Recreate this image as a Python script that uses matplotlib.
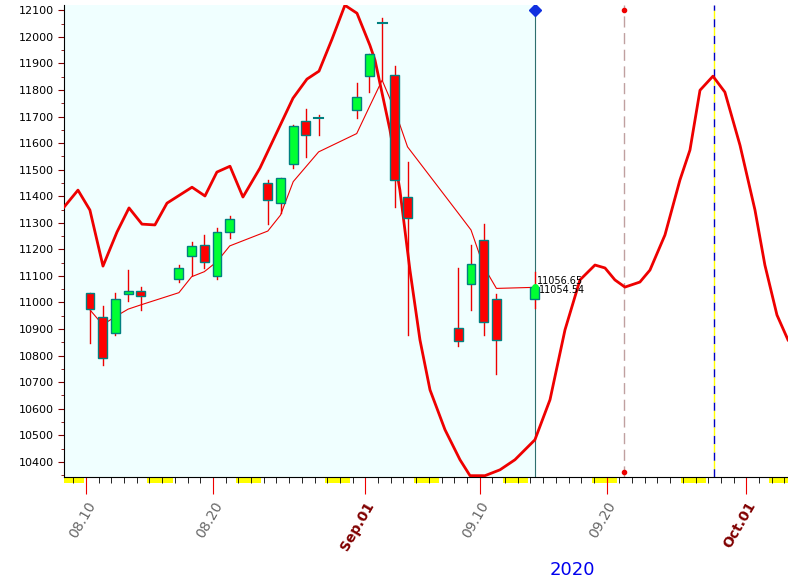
import matplotlib
matplotlib.use("Agg")
import matplotlib.pyplot as plt
from matplotlib.patches import Rectangle

# day index: 0 = 2020-08-10
days = [0,1,2,3,4,7,8,9,10,11,14,15,16,17,18,21,22,23,24,25,29,30,31,32,35]
opens  = [11035,10945,10884,11031,11042,11087,11174,11215,11101,11264,11448,11373,11520,11685,11693,11723,11854,12052,11857,11396,10903,11069,11234,11012,11015]
closes = [10975,10790,11012,11042,11023,11129,11211,11151,11264,11313,11384,11467,11663,11629,11693,11775,11937,12052,11460,11317,10854,11144,10926,10858,11057]
highs  = [11037,10987,11035,11122,11057,11141,11228,11254,11279,11327,11461,11467,11668,11729,11705,11826,11937,12072,11889,11528,11131,11216,11295,11032,11116]
lows   = [10849,10763,10878,11007,10972,11079,11104,11131,11090,11244,11295,11336,11507,11549,11630,11695,11793,11837,11361,10876,10838,10970,10876,10729,10978]
avg    = [10972,10916,10947,10975,10991,11037,11097,11116,11154,11213,11269,11329,11455,11511,11567,11636,11737,11837,11724,11586,11336,11273,11135,11053,11057]

curve_x = [-1.73,-0.63,0.31,1.34,2.44,3.39,4.41,5.43,6.38,8.35,9.37,10.31,11.34,12.36,13.70,16.30,17.40,18.35,19.37,20.39,21.34,22.36,22.76,23.94,24.72,25.51,26.30,27.09,28.27,29.45,30.24,31.42,32.60,33.78,35.35,36.54,37.72,38.90,40.08,40.87,41.65,42.44,43.62,44.41,45.59,46.77,47.56,48.35,49.37,50.31,51.50,52.68,53.46,54.41,55.28]
curve_y = [11359,11423,11348,11137,11265,11356,11295,11292,11374,11434,11401,11491,11513,11397,11506,11769,11841,11871,11991,12119,12089,11968,11912,11649,11423,11122,10859,10671,10521,10408,10348,10348,10370,10408,10483,10634,10897,11085,11141,11130,11085,11058,11077,11122,11254,11461,11574,11799,11852,11792,11592,11348,11141,10953,10859]

tick_days = [0,10,22,31,41,52]
tick_labels = ["08.10","08.20","Sep.01","09.10","09.20","Oct.01"]
weekends = [-2,5,12,19,26,33,40,47,54]

off = 0.32
fig = plt.figure(figsize=(7.88,5.8), dpi=100)
ax = fig.add_axes([64/788, 1-477/580, 1-64/788, 472/580])
xmin, xmax = -1.73, 55.28
ax.set_xlim(xmin, xmax)
ax.set_ylim(10343, 12120)
ax.axvspan(xmin, 35+off, color="#F0FFFF", zorder=0)

ax.plot(curve_x, curve_y, color="#EE0000", lw=2, zorder=3)
ax.plot([d+off for d in days], avg, color="#EE0000", lw=0.8, zorder=3)

for d,o,c,h,l in zip(days,opens,closes,highs,lows):
    x = d+off
    ax.plot([x,x],[l,h], color="#EE0000", lw=1, zorder=4)
    if o == c:
        ax.plot([x-0.35,x+0.35],[o,o], color="#008080", lw=1.5, zorder=5)
    else:
        col = "#00FF33" if c > o else "#FF0000"
        ax.add_patch(Rectangle((x-0.35, min(o,c)), 0.7, abs(c-o), facecolor=col,
                               edgecolor="#008080", lw=1, zorder=5))

ax.axvline(35+off, color="#2F6F6F", lw=0.8, zorder=2)
ax.plot([35+off],[12100], marker="D", color="#1030E0", ms=6, zorder=6)
ax.axvline(42.4, color="#C0A0A0", lw=1, ls=(0,(8,4)), zorder=2)
ax.plot([42.4,42.4],[12100,10360], "o", color="#EE0000", ms=3, zorder=6)
ax.axvline(49.45, color="#0000C0", lw=1, ls=(0,(6,6)), zorder=2)
ax.axvline(49.45, color="#FFFF00", lw=1, ls=(6,(6,6)), zorder=2)
ax.plot([35+off],[11057], marker="o", color="#00FF33", ms=4, zorder=6)
ax.text(35.5, 11062, "11056.65", fontsize=7, va="bottom", zorder=7)
ax.text(35.7, 11046, "11054.54", fontsize=7, va="center", zorder=7)

ax.set_yticks(range(10400, 12101, 100))
ax.set_yticks(range(10350, 12120, 50), minor=True)
ax.tick_params(axis="y", labelsize=8, length=4, direction="out", color="#800000")
ax.tick_params(axis="y", which="minor", length=2, color="#800000")
for s in ["top","right"]:
    ax.spines[s].set_visible(False)

ax.set_xticks(tick_days)
ax.set_xticks(range(-1, 56), minor=True)
ax.tick_params(axis="x", which="major", length=12, color="#EE0000", pad=4)
ax.tick_params(axis="x", which="minor", length=4, color="black")
ax.set_xticklabels(tick_labels, rotation=60, ha="right", rotation_mode="anchor")
for lbl in ax.get_xticklabels():
    if lbl.get_text()[0].isalpha():
        lbl.set_color("#800000"); lbl.set_fontweight("bold")
    else:
        lbl.set_color("#666666")
    lbl.set_fontsize(10)
for w in weekends:
    x0 = max(w+off-0.5, xmin)
    x1 = min(w+off+1.5, xmax)
    ax.add_patch(Rectangle((x0, 10343), x1-x0, -6*1777/472, facecolor="#FFFF00",
                           edgecolor="none", clip_on=False, zorder=1))
fig.text(572/788, 1-570/580, "2020", color="#0000EE", fontsize=13, ha="center", va="center")
fig.savefig("out.png", dpi=100)
